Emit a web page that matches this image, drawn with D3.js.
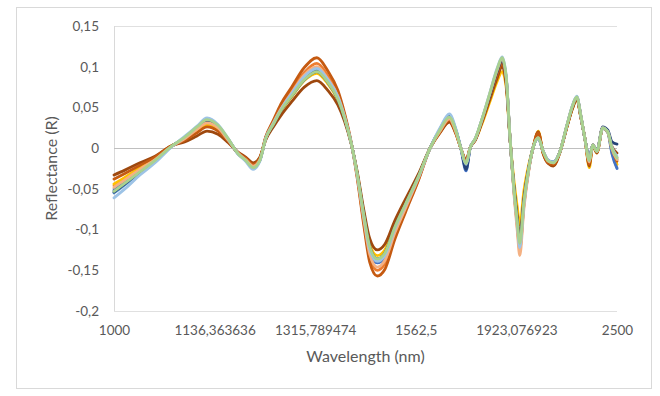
<!DOCTYPE html>
<html>
<head>
<meta charset="utf-8">
<script src="https://cdn.jsdelivr.net/npm/d3@7"></script>
<style>
  body { margin: 0; background: #fff; }
  text { font-family: Lato, "Open Sans", sans-serif; fill: #595959; }
</style>
</head>
<body>
<div id="chart"></div>
<script>
// wavenumber grid (cm-1) the spectra are sampled on
const wavenumber = [10000,9870,9690,9510,9330,9150,9010,8890,8760,8640,8520,8430,8340,8260,8190,8100,8010,7880,7730,7580,7450,7330,7250,7170,7100,7020,6950,6860,6770,6650,6520,6370,6230,6110,6000,5920,5860,5800,5750,5690,5610,5520,5430,5370,5320,5280,5230,5190,5160,5110,5050,5000,4940,4880,4820,4760,4680,4600,4530,4480,4430,4380,4330,4290,4240,4170,4110,4060,4000];

const xTickPos = [10000, 8800, 7600, 6400, 5200, 4000];
const xTickLabels = ['1000', '1136,363636', '1315,789474', '1562,5', '1923,076923', '2500'];
const yTicks = [0.15, 0.1, 0.05, 0, -0.05, -0.1, -0.15, -0.2];

const s1 = [-0.055,-0.045,-0.030,-0.016,0.001, 0.013,0.025,0.034,0.027,0.011, -0.007,-0.014,-0.023,-0.014,
  0.012,0.030,0.047,0.065,0.086,0.096,0.082,0.061,0.038,0.006, -0.032,-0.085,-0.125,-0.140,-0.133,-0.100,-0.070,-0.036,
  0.000,0.024,0.040,0.022, -0.001,-0.022,0.001, 0.011,0.035,0.064,0.094,0.108,0.084,0.018, -0.049,-0.091,-0.118,-0.066,-0.024,
  0.001,0.014,-0.005, -0.016,-0.018,-0.004, 0.026,0.051,0.062,0.038,0.010, -0.016,0.004,-0.004, 0.025,0.020, -0.002,-0.014];
const s2 = [-0.046,-0.037,-0.025,-0.013,0.001, 0.012,0.022,0.030,0.024,0.010, -0.006,-0.013,-0.021,-0.013,
  0.013,0.032,0.050,0.071,0.093,0.104,0.089,0.066,0.041,0.006, -0.034,-0.091,-0.134,-0.150,-0.142,-0.107,-0.075,-0.039,
  0.000,0.021,0.035,0.019, -0.001,-0.018,0.001, 0.011,0.034,0.063,0.092,0.106,0.082,0.018, -0.052,-0.096,-0.125,-0.070,-0.025,
  0.001,0.016,-0.005, -0.017,-0.019,-0.004, 0.025,0.050,0.061,0.037,0.010, -0.018,0.004,-0.004, 0.025,0.020, 0.000,-0.012];
const s3 = [-0.050,-0.041,-0.027,-0.015,0.001, 0.012,0.023,0.031,0.025,0.010, -0.006,-0.014,-0.022,-0.014,
  0.012,0.029,0.046,0.064,0.084,0.094,0.081,0.060,0.037,0.006, -0.031,-0.083,-0.123,-0.137,-0.130,-0.098,-0.069,-0.035,
  0.000,0.022,0.037,0.020, -0.001,-0.020,0.001, 0.011,0.035,0.064,0.094,0.108,0.084,0.018, -0.050,-0.092,-0.120,-0.067,-0.024,
  0.001,0.014,-0.005, -0.016,-0.018,-0.004, 0.026,0.051,0.062,0.038,0.010, -0.016,0.004,-0.004, 0.024,0.019, -0.006,-0.024];
const s4 = [-0.044,-0.036,-0.024,-0.013,0.002, 0.011,0.020,0.028,0.022,0.009, -0.006,-0.012,-0.020,-0.012,
  0.011,0.029,0.045,0.063,0.083,0.092,0.079,0.059,0.036,0.006, -0.030,-0.080,-0.118,-0.132,-0.125,-0.094,-0.066,-0.034,
  0.000,0.020,0.033,0.018, -0.001,-0.016,0.001, 0.010,0.030,0.056,0.082,0.094,0.073,0.016, -0.039,-0.072,-0.094,-0.052,-0.019,
  0.001,0.021,-0.007, -0.018,-0.021,-0.005, 0.025,0.049,0.060,0.037,0.010, -0.024,0.003,-0.006, 0.025,0.020, -0.002,-0.020];
const s5 = [-0.052,-0.042,-0.028,-0.015,0.001, 0.013,0.024,0.032,0.026,0.011, -0.006,-0.014,-0.022,-0.014,
  0.012,0.030,0.047,0.067,0.088,0.098,0.084,0.063,0.038,0.006, -0.032,-0.086,-0.126,-0.141,-0.134,-0.101,-0.071,-0.036,
  0.000,0.023,0.038,0.021, -0.002,-0.028,0.001, 0.011,0.033,0.062,0.090,0.104,0.080,0.018, -0.048,-0.087,-0.114,-0.063,-0.023,
  0.001,0.013,-0.004, -0.016,-0.018,-0.004, 0.026,0.051,0.062,0.038,0.010, -0.014,0.004,-0.004, 0.025,0.020, -0.007,-0.025];
const s6 = [-0.033,-0.027,-0.018,-0.010,0.002, 0.008,0.015,0.021,0.017,0.007, -0.005,-0.011,-0.018,-0.011,
  0.010,0.026,0.040,0.057,0.075,0.083,0.071,0.053,0.033,0.005, -0.028,-0.076,-0.111,-0.125,-0.118,-0.089,-0.062,-0.032,
  0.000,0.019,0.032,0.017, -0.001,-0.014,0.001, 0.010,0.032,0.059,0.086,0.100,0.077,0.017, -0.046,-0.084,-0.110,-0.061,-0.022,
  0.001,0.020,-0.007, -0.019,-0.022,-0.005, 0.025,0.049,0.060,0.037,0.010, -0.022,0.003,-0.006, 0.025,0.020, 0.002,-0.006];
const s7 = [-0.038,-0.031,-0.021,-0.011,0.002, 0.010,0.019,0.026,0.021,0.009, -0.006,-0.012,-0.020,-0.012,
  0.014,0.034,0.054,0.075,0.099,0.111,0.095,0.071,0.043,0.007, -0.036,-0.095,-0.140,-0.157,-0.149,-0.112,-0.078,-0.040,
  0.000,0.020,0.034,0.018, -0.001,-0.016,0.001, 0.011,0.033,0.062,0.090,0.104,0.080,0.018, -0.051,-0.093,-0.122,-0.068,-0.024,
  0.001,0.019,-0.006, -0.018,-0.020,-0.004, 0.026,0.051,0.062,0.038,0.010, -0.020,0.004,-0.005, 0.025,0.020, -0.001,-0.016];
const s8 = [-0.054,-0.044,-0.029,-0.016,0.001, 0.013,0.024,0.033,0.026,0.011, -0.007,-0.015,-0.024,-0.015,
  0.012,0.029,0.046,0.064,0.084,0.094,0.081,0.060,0.037,0.006, -0.031,-0.082,-0.121,-0.136,-0.129,-0.097,-0.068,-0.035,
  0.000,0.023,0.039,0.021, -0.001,-0.026,0.001, 0.011,0.035,0.064,0.094,0.108,0.084,0.018, -0.048,-0.089,-0.116,-0.065,-0.023,
  0.001,0.012,-0.004, -0.015,-0.017,-0.004, 0.027,0.052,0.063,0.039,0.010, -0.012,0.004,-0.003, 0.026,0.022, 0.008,0.005];
const s9 = [-0.048,-0.039,-0.026,-0.014,0.001, 0.012,0.023,0.031,0.025,0.010, -0.006,-0.014,-0.022,-0.014,
  0.012,0.031,0.048,0.068,0.090,0.100,0.085,0.064,0.039,0.006, -0.033,-0.088,-0.130,-0.146,-0.138,-0.104,-0.073,-0.037,
  0.000,0.021,0.036,0.019, -0.001,-0.019,0.001, 0.011,0.035,0.066,0.096,0.110,0.085,0.019, -0.055,-0.101,-0.132,-0.074,-0.026,
  0.001,0.013,-0.004, -0.016,-0.018,-0.004, 0.027,0.052,0.063,0.039,0.010, -0.017,0.004,-0.004, 0.025,0.020, -0.001,-0.014];
const s10 = [-0.061,-0.050,-0.033,-0.018,0.000, 0.015,0.027,0.037,0.029,0.012, -0.007,-0.016,-0.026,-0.016,
  0.012,0.030,0.047,0.067,0.088,0.098,0.084,0.063,0.038,0.006, -0.032,-0.084,-0.124,-0.139,-0.132,-0.099,-0.069,-0.036,
  0.000,0.025,0.042,0.023, -0.001,-0.020,0.001, 0.012,0.036,0.067,0.098,0.112,0.087,0.019, -0.051,-0.093,-0.122,-0.068,-0.024,
  0.001,0.012,-0.004, -0.015,-0.017,-0.004, 0.027,0.053,0.064,0.039,0.010, -0.015,0.004,-0.004, 0.025,0.020, 0.001,-0.010];
const s11 = [-0.053,-0.043,-0.029,-0.015,0.001, 0.014,0.026,0.035,0.028,0.012, -0.007,-0.015,-0.024,-0.015,
  0.012,0.029,0.046,0.064,0.084,0.094,0.081,0.060,0.037,0.006, -0.031,-0.082,-0.121,-0.136,-0.129,-0.097,-0.068,-0.035,
  0.000,0.023,0.038,0.021, -0.001,-0.019,0.001, 0.012,0.036,0.066,0.097,0.111,0.086,0.019, -0.049,-0.090,-0.117,-0.065,-0.023,
  0.001,0.013,-0.004, -0.016,-0.018,-0.004, 0.027,0.052,0.063,0.039,0.010, -0.015,0.004,-0.004, 0.025,0.020, 0.000,-0.012];

const seriesColors = ['#5B9BD5', '#ED7D31', '#A5A5A5', '#FFC000', '#4472C4', '#9E480E',
  '#C55A11', '#264478', '#F4B183', '#9DC3E6', '#A9D18E'];
const series = [s1, s2, s3, s4, s5, s6, s7, s8, s9, s10, s11];

const width = 660, height = 396;
const margin = { top: 26, right: 43, bottom: 85, left: 114 };
const plotW = width - margin.left - margin.right;
const plotH = height - margin.top - margin.bottom;

const svg = d3.select('#chart').append('svg')
  .attr('width', width)
  .attr('height', height);

// chart border
svg.append('rect')
  .attr('x', 16.5).attr('y', 7.5)
  .attr('width', 635).attr('height', 381)
  .attr('fill', '#fff')
  .attr('stroke', '#d9d9d9');

const chart = svg.append('g')
  .attr('transform', `translate(${margin.left}, ${margin.top})`);

const xScale = d3.scaleLinear().domain([10000, 4000]).range([0, plotW]);
const yScale = d3.scaleLinear().domain([-0.2, 0.15]).range([plotH, 0]);

// frame lines: top, bottom, left, zero
[0.15, -0.2].forEach(v => {
  chart.append('line')
    .attr('x1', 0).attr('x2', plotW)
    .attr('y1', Math.round(yScale(v)) + 0.5).attr('y2', Math.round(yScale(v)) + 0.5)
    .attr('stroke', '#e0e0e0');
});
chart.append('line')
  .attr('x1', 0.5).attr('x2', 0.5)
  .attr('y1', yScale(0.15)).attr('y2', yScale(-0.2))
  .attr('stroke', '#d9d9d9');
chart.append('line')
  .attr('x1', 0).attr('x2', plotW)
  .attr('y1', Math.round(yScale(0)) + 0.5).attr('y2', Math.round(yScale(0)) + 0.5)
  .attr('stroke', '#bfbfbf');

// axes (labels only)
const yAxis = chart.append('g')
  .call(d3.axisLeft(yScale).tickValues(yTicks).tickSize(0).tickPadding(15)
    .tickFormat(d => String(d).replace('.', ',')));
const xAxis = chart.append('g')
  .attr('transform', `translate(0, ${plotH})`)
  .call(d3.axisBottom(xScale).tickValues(xTickPos).tickSize(0).tickPadding(14)
    .tickFormat((d, i) => xTickLabels[i]));
[yAxis, xAxis].forEach(a => {
  a.select('.domain').remove();
  a.selectAll('text').attr('font-family', null).style('font-size', '13.5px').attr('fill', '#595959');
});

// spectra
const line = d3.line()
  .x((d, i) => xScale(wavenumber[i]))
  .y(d => yScale(d))
  .curve(d3.curveMonotoneX);

chart.append('g').selectAll('path')
  .data(series)
  .enter()
  .append('path')
  .attr('d', d => line(d))
  .attr('fill', 'none')
  .attr('stroke', (d, i) => seriesColors[i])
  .attr('stroke-width', 2.8)
  .attr('stroke-linejoin', 'round')
  .attr('stroke-linecap', 'round');

// axis titles
svg.append('text')
  .attr('x', margin.left + plotW / 2)
  .attr('y', 362)
  .attr('text-anchor', 'middle')
  .style('font-size', '16px')
  .text('Wavelength (nm)');
svg.append('text')
  .attr('transform', `translate(57, ${margin.top + plotH / 2}) rotate(-90)`)
  .attr('text-anchor', 'middle')
  .style('font-size', '16px')
  .text('Reflectance (R)');
</script>
</body>
</html>
